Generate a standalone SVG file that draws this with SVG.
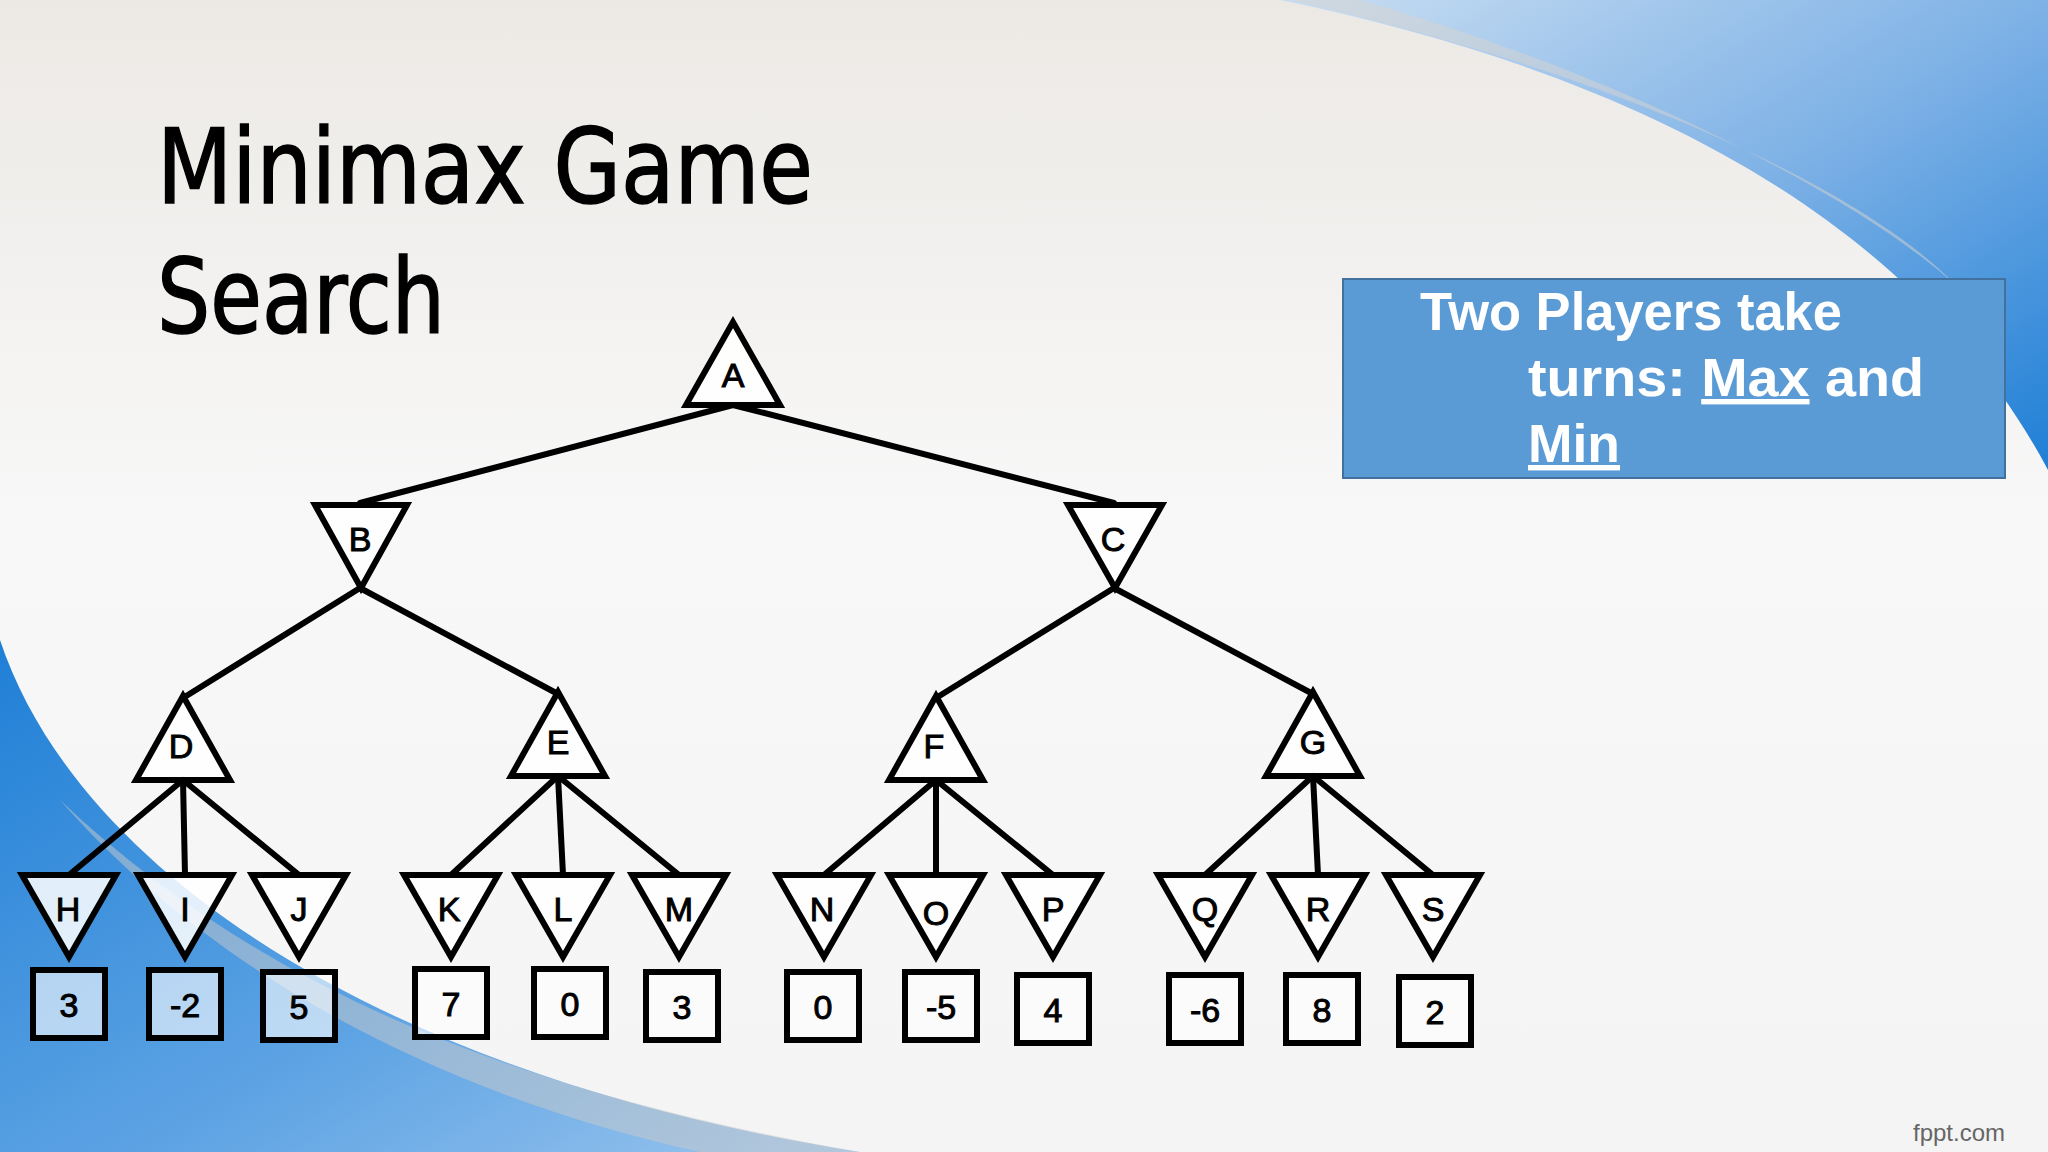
<svg xmlns="http://www.w3.org/2000/svg" width="2048" height="1152" viewBox="0 0 2048 1152">
<defs>
<linearGradient id="bg" x1="0" y1="0" x2="0" y2="1"><stop offset="0" stop-color="#ece9e5"/><stop offset="0.45" stop-color="#f8f8f8"/><stop offset="1" stop-color="#f4f4f4"/></linearGradient>
<linearGradient id="bl" x1="0" y1="0" x2="1" y2="1"><stop offset="0" stop-color="#1f7fd6"/><stop offset="0.6" stop-color="#5fa4e4"/><stop offset="1" stop-color="#9cc6ee"/></linearGradient>
<linearGradient id="tr" x1="0" y1="0" x2="1" y2="1"><stop offset="0" stop-color="#c9def2"/><stop offset="0.5" stop-color="#7fb2e6"/><stop offset="1" stop-color="#1f7fd6"/></linearGradient>
<style>
.e{stroke:#000;stroke-width:6;fill:none;stroke-linecap:round}
.n{fill:#fff;fill-opacity:0.85;stroke:#000;stroke-width:6;stroke-linejoin:miter}
.b{fill:#fff;fill-opacity:0.6;stroke:#000;stroke-width:6}
.l{font-family:"Liberation Sans",Arial,sans-serif;font-size:34px;text-anchor:middle;fill:#000;stroke:#000;stroke-width:1}
.v{font-family:"Liberation Sans",Arial,sans-serif;font-size:34px;text-anchor:middle;fill:#000;stroke:#000;stroke-width:1}
.w{font-family:"Liberation Sans",Arial,sans-serif;font-weight:bold;font-size:54px;fill:#fff}
</style>
</defs>
<rect width="2048" height="1152" fill="url(#bg)"/>
<path d="M1280,0 C1620,70 1910,210 2048,470 L2048,0 Z" fill="url(#tr)"/>
<path d="M1290,0 C1640,80 1880,200 1960,290 C1880,210 1640,80 1360,0 Z" fill="#d8d4cf" opacity="0.5"/>
<path d="M0,640 C80,880 400,1080 860,1152 L0,1152 Z" fill="url(#bl)"/>
<path d="M60,800 C250,980 500,1090 860,1152 L700,1152 C420,1090 200,960 60,800 Z" fill="#c9c9c9" opacity="0.5"/>
<text x="157" y="203" font-family="'DejaVu Sans Condensed','DejaVu Sans',sans-serif" font-size="104" fill="#000" stroke="#000" stroke-width="1.5" textLength="656" lengthAdjust="spacingAndGlyphs">Minimax Game</text>
<text x="157" y="333" font-family="'DejaVu Sans Condensed','DejaVu Sans',sans-serif" font-size="104" fill="#000" stroke="#000" stroke-width="1.5" textLength="288" lengthAdjust="spacingAndGlyphs">Search</text>
<g id="info">
<rect x="1343" y="279" width="662" height="199" fill="#5b9bd5" stroke="#41719c" stroke-width="2"/>
<text class="w" x="1420" y="330" textLength="422" lengthAdjust="spacingAndGlyphs">Two Players take</text>
<text class="w" x="1528" y="396" textLength="396" lengthAdjust="spacingAndGlyphs">turns:  <tspan text-decoration="underline">Max</tspan> and</text>
<text class="w" x="1528" y="462" text-decoration="underline" textLength="92" lengthAdjust="spacingAndGlyphs">Min</text>
</g>
<g id="connectors">
<line class="e" x1="733" y1="405" x2="360" y2="503"/>
<line class="e" x1="733" y1="405" x2="1114" y2="503"/>
<line class="e" x1="360" y1="588" x2="183" y2="698"/>
<line class="e" x1="360" y1="588" x2="558" y2="694"/>
<line class="e" x1="1114" y1="588" x2="936" y2="698"/>
<line class="e" x1="1114" y1="588" x2="1313" y2="694"/>
<line class="e" x1="183" y1="780" x2="69" y2="875"/>
<line class="e" x1="183" y1="780" x2="185" y2="875"/>
<line class="e" x1="183" y1="780" x2="299" y2="875"/>
<line class="e" x1="558" y1="776" x2="451" y2="875"/>
<line class="e" x1="558" y1="776" x2="563" y2="875"/>
<line class="e" x1="558" y1="776" x2="679" y2="875"/>
<line class="e" x1="936" y1="780" x2="824" y2="875"/>
<line class="e" x1="936" y1="780" x2="936" y2="875"/>
<line class="e" x1="936" y1="780" x2="1053" y2="875"/>
<line class="e" x1="1313" y1="776" x2="1205" y2="875"/>
<line class="e" x1="1313" y1="776" x2="1318" y2="875"/>
<line class="e" x1="1313" y1="776" x2="1433" y2="875"/>
</g>
<g id="A"><polygon class="n" points="733,322 686,405 780,405"/><text class="l" x="733" y="387">A</text></g>
<g id="B"><polygon class="n" points="315,505 407,505 361,588"/><text class="l" x="360" y="551">B</text></g>
<g id="C"><polygon class="n" points="1068,505 1162,505 1115,588"/><text class="l" x="1113" y="551">C</text></g>
<g id="D"><polygon class="n" points="183,696 136,780 230,780"/><text class="l" x="181" y="758">D</text></g>
<g id="E"><polygon class="n" points="558,692 511,776 605,776"/><text class="l" x="558" y="754">E</text></g>
<g id="F"><polygon class="n" points="936,696 889,780 983,780"/><text class="l" x="934" y="758">F</text></g>
<g id="G"><polygon class="n" points="1313,692 1266,776 1360,776"/><text class="l" x="1313" y="754">G</text></g>
<g id="H"><polygon class="n" points="22,875 116,875 69,957"/><text class="l" x="68" y="921">H</text><rect class="b" x="33" y="970" width="72" height="68"/><text class="v" x="69" y="1017">3</text></g>
<g id="I"><polygon class="n" points="138,875 232,875 185,957"/><text class="l" x="185" y="921">I</text><rect class="b" x="149" y="970" width="72" height="68"/><text class="v" x="185" y="1017">-2</text></g>
<g id="J"><polygon class="n" points="252,875 346,875 299,957"/><text class="l" x="299" y="921">J</text><rect class="b" x="263" y="972" width="72" height="68"/><text class="v" x="299" y="1019">5</text></g>
<g id="K"><polygon class="n" points="404,875 498,875 451,957"/><text class="l" x="449" y="921">K</text><rect class="b" x="415" y="969" width="72" height="68"/><text class="v" x="451" y="1016">7</text></g>
<g id="L"><polygon class="n" points="516,875 610,875 563,957"/><text class="l" x="563" y="921">L</text><rect class="b" x="534" y="969" width="72" height="68"/><text class="v" x="570" y="1016">0</text></g>
<g id="M"><polygon class="n" points="632,875 726,875 679,957"/><text class="l" x="679" y="921">M</text><rect class="b" x="646" y="972" width="72" height="68"/><text class="v" x="682" y="1019">3</text></g>
<g id="N"><polygon class="n" points="777,875 871,875 824,957"/><text class="l" x="822" y="921">N</text><rect class="b" x="787" y="972" width="72" height="68"/><text class="v" x="823" y="1019">0</text></g>
<g id="O"><polygon class="n" points="889,875 983,875 936,957"/><text class="l" x="936" y="925">O</text><rect class="b" x="905" y="972" width="72" height="68"/><text class="v" x="941" y="1019">-5</text></g>
<g id="P"><polygon class="n" points="1006,875 1100,875 1053,957"/><text class="l" x="1053" y="921">P</text><rect class="b" x="1017" y="975" width="72" height="68"/><text class="v" x="1053" y="1022">4</text></g>
<g id="Q"><polygon class="n" points="1158,875 1252,875 1205,957"/><text class="l" x="1205" y="921">Q</text><rect class="b" x="1169" y="975" width="72" height="68"/><text class="v" x="1205" y="1022">-6</text></g>
<g id="R"><polygon class="n" points="1271,875 1365,875 1318,957"/><text class="l" x="1318" y="921">R</text><rect class="b" x="1286" y="975" width="72" height="68"/><text class="v" x="1322" y="1022">8</text></g>
<g id="S"><polygon class="n" points="1386,875 1480,875 1433,957"/><text class="l" x="1433" y="921">S</text><rect class="b" x="1399" y="977" width="72" height="68"/><text class="v" x="1435" y="1024">2</text></g>
<text x="1913" y="1141" font-family="'Liberation Sans',Arial,sans-serif" font-size="24" fill="#666">fppt.com</text>
</svg>
